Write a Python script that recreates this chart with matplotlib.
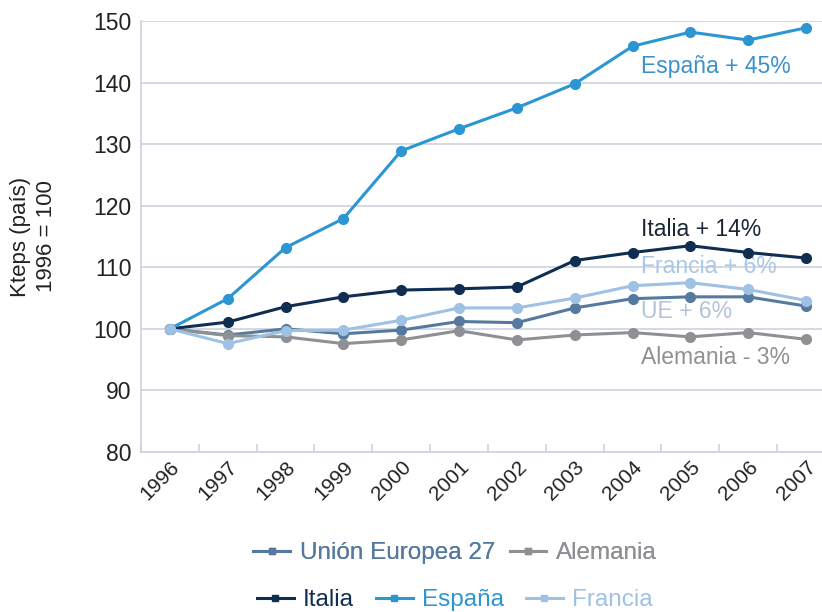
import matplotlib
matplotlib.use("Agg")
import matplotlib.pyplot as plt
from matplotlib.lines import Line2D

years = ["1996", "1997", "1998", "1999", "2000", "2001", "2002", "2003", "2004", "2005", "2006", "2007"]
ue = [100, 99.0, 100.0, 99.2, 99.8, 101.2, 101.0, 103.4, 104.9, 105.2, 105.2, 103.7]
alemania = [100, 98.9, 98.7, 97.6, 98.2, 99.7, 98.2, 99.0, 99.4, 98.7, 99.4, 98.3]
italia = [100, 101.1, 103.6, 105.2, 106.3, 106.5, 106.8, 111.1, 112.4, 113.5, 112.4, 111.5]
espana = [100, 104.9, 113.2, 117.9, 128.9, 132.5, 135.9, 139.8, 145.9, 148.2, 146.9, 148.9]
francia = [100, 97.6, 99.7, 99.8, 101.4, 103.4, 103.4, 105.0, 107.0, 107.5, 106.4, 104.6]

series = [
    ("Unión Europea 27", ue, "#56799f"),
    ("Alemania", alemania, "#8e9093"),
    ("Italia", italia, "#0f2e52"),
    ("España", espana, "#2b96d2"),
    ("Francia", francia, "#9fc1e4"),
]

labels = [
    ("España + 45%", 142.6, "#3a92cc"),
    ("Italia + 14%", 116.2, "#1a2535"),
    ("Francia + 6%", 110.1, "#a9c7e6"),
    ("UE + 6%", 102.8, "#b3c3d8"),
    ("Alemania - 3%", 95.3, "#8e9093"),
]

plt.rcParams['font.family'] = ['Liberation Sans', 'DejaVu Sans']
fig = plt.figure(figsize=(8.22, 6.12), dpi=100)
ax = fig.add_axes([141/822, 1-452/612, (822-141)/822, (452-21)/612])

x = list(range(len(years)))
order = [1, 0, 4, 2, 3]
for idx in order:
    name, vals, col = series[idx]
    ax.plot(x, vals, color=col, lw=2.2, marker='o', ms=7, zorder=3+idx)

ax.set_ylim(80, 150)
ax.set_xlim(-0.466, 11.276)
ax.set_yticks(range(80, 151, 10))
ax.yaxis.grid(True, color="#ccd3df", lw=1.2)
ax.set_axisbelow(True)
for s in ["top", "right"]:
    ax.spines[s].set_visible(False)
ax.spines["left"].set_color("#ccd3df")
ax.spines["bottom"].set_color("#ccd3df")
ax.spines["left"].set_linewidth(1.2)
ax.spines["bottom"].set_linewidth(1.2)
ax.tick_params(axis='y', length=0, labelsize=16.5, labelcolor="#222222", pad=7)
ax.set_xticks(x)
ax.set_xticklabels(years, rotation=45, ha='right', rotation_mode='anchor', fontsize=15, color="#222222")
ax.tick_params(axis='x', length=0, pad=4)
ax.set_xticks([i + 0.5 for i in range(-1, 11)], minor=True)
ax.tick_params(axis='x', which='minor', direction='in', length=6, color="#ccd3df", width=1.2)

ax.set_ylabel("Kteps (país)\n1996 = 100", fontsize=16, color="#222222", labelpad=26, linespacing=1.3)

for text, yv, col in labels:
    ax.text(8.14, yv, text, color=col, fontsize=16.5, ha='left', va='center')

def handle(col):
    return Line2D([], [], color=col, lw=2.2, marker='s', ms=5)

leg1 = fig.legend([handle(series[0][2]), handle(series[1][2])],
                  [series[0][0], series[1][0]], loc='center', bbox_to_anchor=(455/822, 1-553/612),
                  ncol=2, frameon=False, fontsize=17.5, handlelength=1.5, columnspacing=0.6, handletextpad=0.4)
for t, s in zip(leg1.get_texts(), series[:2]):
    t.set_color(s[2])
leg2 = fig.legend([handle(series[i][2]) for i in (2, 3, 4)],
                  [series[i][0] for i in (2, 3, 4)], loc='center', bbox_to_anchor=(455/822, 1-600/612),
                  ncol=3, frameon=False, fontsize=17.5, handlelength=1.5, columnspacing=0.9, handletextpad=0.4)
for t, i in zip(leg2.get_texts(), (2, 3, 4)):
    t.set_color(series[i][2])
fig.add_artist(leg1)

fig.savefig("out.png", dpi=100)
